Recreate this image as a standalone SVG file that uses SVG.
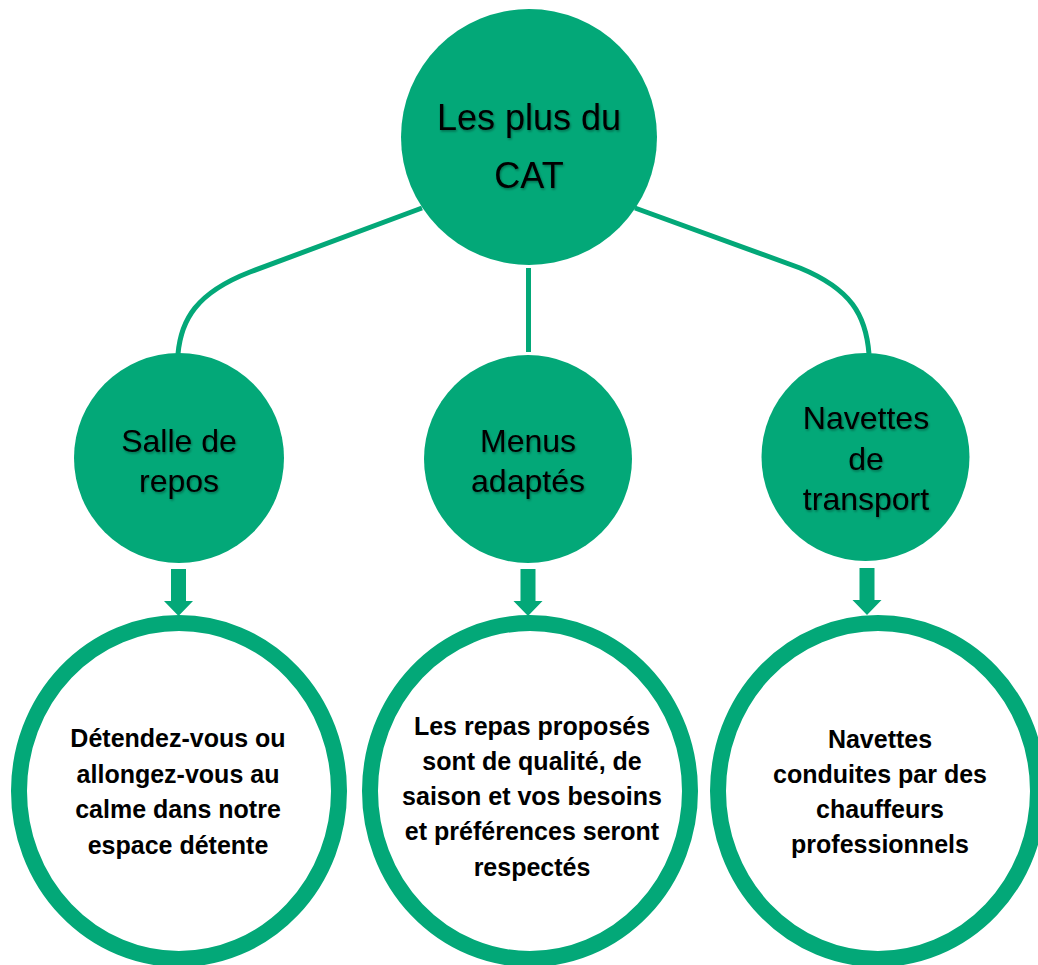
<svg xmlns="http://www.w3.org/2000/svg" width="1038" height="965" viewBox="0 0 1038 965">
  <defs>
    <filter id="shadow" x="-10%" y="-10%" width="120%" height="120%">
      <feDropShadow dx="1" dy="1.5" stdDeviation="1" flood-color="#000" flood-opacity="0.35"/>
    </filter>
  </defs>
  <style>
    .solid { fill: #03A878; }
    .ring { fill: #ffffff; stroke: #03A878; stroke-width: 16; }
    .link { fill: none; stroke: #03A878; stroke-width: 5; }
    .arrow { fill: #03A878; }
    .t-top { font-family: "Liberation Sans", Arial, sans-serif; font-size: 36px; fill: #000; text-anchor: middle; }
    .t-mid { font-family: "Liberation Sans", Arial, sans-serif; font-size: 32px; fill: #000; text-anchor: middle; }
    .t-bot { font-family: "Liberation Sans", Arial, sans-serif; font-size: 25px; font-weight: bold; fill: #000; text-anchor: middle; }
  </style>
  <rect width="1038" height="965" fill="#ffffff"/>

  <g id="connectors">
    <path class="link" d="M 422 208 L 250 272 C 196 293 181 320 178 354"/>
    <path class="link" d="M 528.5 268 L 528.5 352"/>
    <path class="link" d="M 635 208 L 800 268 C 851 289 866 315 869 354"/>
    <polygon class="arrow" points="171,569 186,569 186,601 193,601 178.5,616 164,601 171,601"/>
    <polygon class="arrow" points="520.5,569 535.5,569 535.5,601 542.5,601 528,616 513.5,601 520.5,601"/>
    <polygon class="arrow" points="859.5,568 874.5,568 874.5,600 881.5,600 867,615 852.5,600 859.5,600"/>
  </g>

  <g id="node-root">
    <circle class="solid" cx="529" cy="137" r="128"/>
    <g filter="url(#shadow)">
      <text class="t-top" x="529" y="130">Les plus du</text>
      <text class="t-top" x="529" y="188">CAT</text>
    </g>
  </g>

  <g id="node-salle">
    <circle class="solid" cx="179" cy="458" r="105"/>
    <g filter="url(#shadow)">
      <text class="t-mid" x="179" y="452">Salle de</text>
      <text class="t-mid" x="179" y="492">repos</text>
    </g>
  </g>

  <g id="node-menus">
    <circle class="solid" cx="528" cy="459" r="104"/>
    <g filter="url(#shadow)">
      <text class="t-mid" x="528" y="452">Menus</text>
      <text class="t-mid" x="528" y="492">adaptés</text>
    </g>
  </g>

  <g id="node-navettes">
    <circle class="solid" cx="865.5" cy="457" r="104"/>
    <g filter="url(#shadow)">
      <text class="t-mid" x="866" y="429">Navettes</text>
      <text class="t-mid" x="866" y="470">de</text>
      <text class="t-mid" x="866" y="510">transport</text>
    </g>
  </g>

  <g id="node-salle-detail">
    <ellipse class="ring" cx="179" cy="791" rx="160" ry="168"/>
    <text class="t-bot" x="178" y="747">Détendez-vous ou</text>
    <text class="t-bot" x="178" y="783">allongez-vous au</text>
    <text class="t-bot" x="178" y="818">calme dans notre</text>
    <text class="t-bot" x="178" y="854">espace détente</text>
  </g>

  <g id="node-menus-detail">
    <ellipse class="ring" cx="530" cy="791" rx="160" ry="168"/>
    <text class="t-bot" x="532" y="735">Les repas proposés</text>
    <text class="t-bot" x="532" y="770">sont de qualité, de</text>
    <text class="t-bot" x="532" y="805">saison et vos besoins</text>
    <text class="t-bot" x="532" y="840">et préférences seront</text>
    <text class="t-bot" x="532" y="876">respectés</text>
  </g>

  <g id="node-navettes-detail">
    <ellipse class="ring" cx="878" cy="791" rx="160" ry="168"/>
    <text class="t-bot" x="880" y="748">Navettes</text>
    <text class="t-bot" x="880" y="783">conduites par des</text>
    <text class="t-bot" x="880" y="818">chauffeurs</text>
    <text class="t-bot" x="880" y="853">professionnels</text>
  </g>
</svg>
